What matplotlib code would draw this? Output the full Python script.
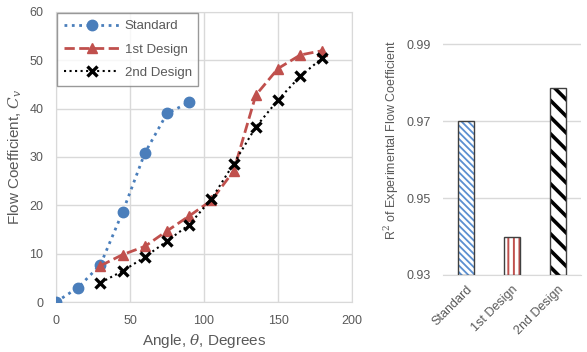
import numpy
import matplotlib
matplotlib.use("Agg")
import matplotlib.pyplot as plt

# ── Data ─────────────────────────────────────────────────────────────────────
angle_std = [0, 15, 30, 45, 60, 75, 90]
cv_std = [0.0, 3.0, 7.7, 18.6, 30.8, 39.0, 41.3]

angle_d1 = [30, 45, 60, 75, 90, 105, 120, 135, 150, 165, 180]
cv_d1 = [7.5, 9.8, 11.5, 14.7, 17.8, 21.0, 27.1, 42.8, 48.3, 51.1, 52.0]

angle_d2 = [30, 45, 60, 75, 90, 105, 120, 135, 150, 165, 180]
cv_d2 = [4.0, 6.4, 9.3, 12.6, 16.0, 21.3, 28.6, 36.2, 41.8, 46.7, 50.5]

designs = ["Standard", "1st Design", "2nd Design"]
r2_values = [0.970, 0.9398, 0.9787]

GRAY = "#595959"
GRID = "#d9d9d9"

plt.rcParams["font.family"] = ["Liberation Sans", "DejaVu Sans"]
plt.rcParams["mathtext.fontset"] = "dejavuserif"

fig = plt.figure(figsize=(5.87, 3.52), dpi=100)

# ── Left: flow coefficient vs angle ──────────────────────────────────────────
ax = fig.add_axes([0.0954, 0.142, 0.5043, 0.824])
ax.plot(angle_std, cv_std, ":", color="#4a7ebb", lw=2, marker="o", ms=7.5,
        label="Standard", zorder=3)
ax.plot(angle_d1, cv_d1, "--", color="#c0504d", lw=2, marker="^", ms=7.5,
        label="1st Design", zorder=3)
ax.plot(angle_d2, cv_d2, ":", color="black", lw=1.5, marker="x", ms=7,
        mew=2.4, label="2nd Design", zorder=4)

ax.set_xlim(0, 200)
ax.set_ylim(0, 60)
ax.set_xticks(range(0, 201, 50))
ax.set_yticks(range(0, 61, 10))
ax.grid(True, color=GRID, lw=1)
ax.set_axisbelow(True)
for s in ax.spines.values():
    s.set_color(GRID)
ax.tick_params(length=0, colors=GRAY, labelsize=9, pad=9)
ax.set_xlabel(r"Angle, $\theta$, Degrees", color=GRAY, fontsize=11, labelpad=4)
ax.set_ylabel(r"Flow Coefficient, $C_v$", color=GRAY, fontsize=11, labelpad=4)

leg = ax.legend(loc="upper left", fontsize=9.5, frameon=True, fancybox=False,
                borderaxespad=0.1, handlelength=4.2, labelspacing=0.85,
                borderpad=0.5, handletextpad=0.4)
leg.get_frame().set_edgecolor("#808080")
for t in leg.get_texts():
    t.set_color(GRAY)

# ── Right: R² of flow coefficient ─────────────────────────────────────────────
bx = fig.add_axes([0.7547, 0.2188, 0.235, 0.764])
x = numpy.arange(len(designs))
hatch_styles = ["\\\\\\\\\\", "|||", "\\\\"]
hatch_colors = ["#5b8fd0", "#c0504d", "black"]
hatch_widths = [1.3, 1.4, 2.6]
heights = [v - 0.93 for v in r2_values]
for i in range(len(designs)):
    with plt.rc_context({"hatch.linewidth": hatch_widths[i]}):
        bx.bar(x[i], heights[i], bottom=0.93, width=0.33, color="white",
               edgecolor=hatch_colors[i], hatch=hatch_styles[i], lw=0, zorder=2)
bx.bar(x, heights, bottom=0.93, width=0.33,
       color="none", edgecolor="#404040", lw=1, zorder=3)

bx.set_xlim(-0.5, 2.5)
bx.set_ylim(0.93, 1.0)
bx.set_yticks([0.93, 0.95, 0.97, 0.99])
bx.set_yticklabels(["0.93", "0.95", "0.97", "0.99"])
bx.set_xticks(x)
bx.set_xticklabels(designs, rotation=45, ha="right", rotation_mode="anchor")
bx.grid(True, axis="y", color=GRID, lw=1)
bx.set_axisbelow(True)
for s in ["top", "right", "left"]:
    bx.spines[s].set_visible(False)
bx.spines["bottom"].set_color(GRID)
bx.tick_params(length=0, colors=GRAY, labelsize=9)
bx.tick_params(axis="x", pad=6)
bx.tick_params(axis="y", pad=9)
bx.set_ylabel(r"R$^2$ of Experimental Flow Coefficient", color=GRAY,
              fontsize=9, labelpad=4)

fig.savefig("out.png", dpi=100)
